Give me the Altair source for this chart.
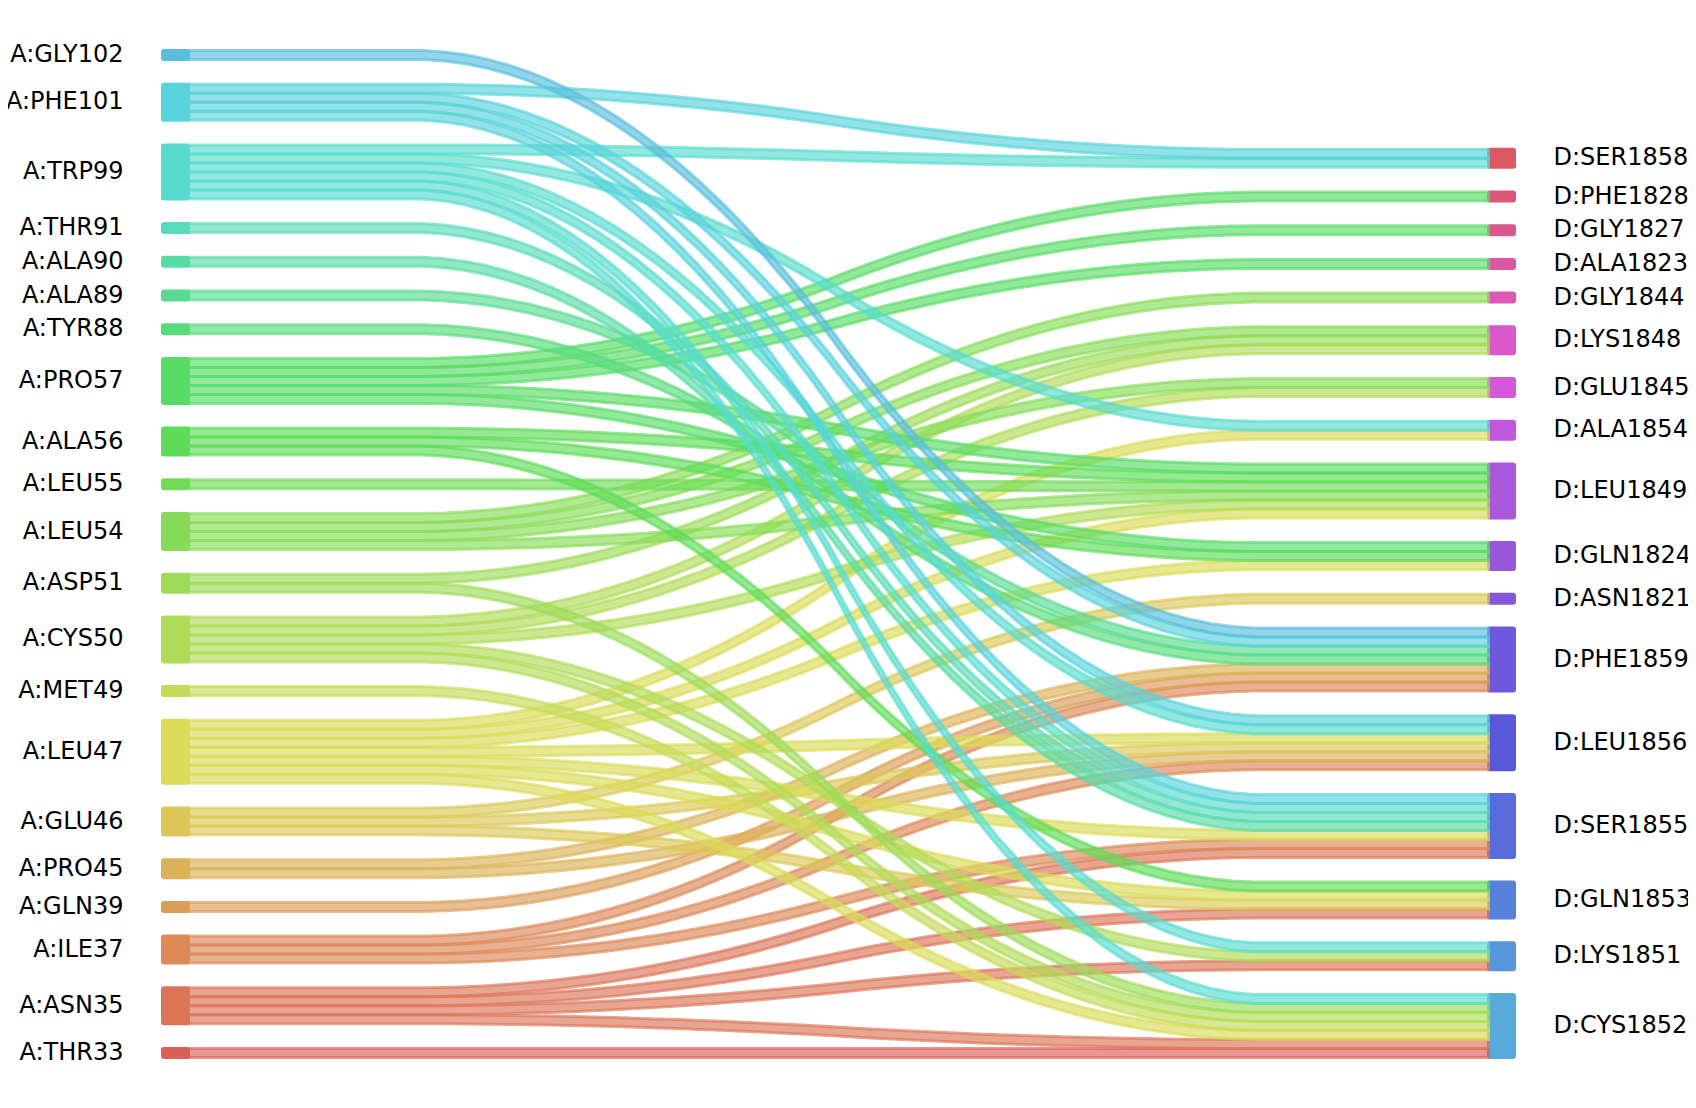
import colorsys
import numpy as np
import pandas as pd
import altair as alt

# ---------------- data ----------------
# left residues (bottom -> top), right residues (bottom -> top)
left_labels = ["A:THR33", "A:ASN35", "A:ILE37", "A:GLN39", "A:PRO45", "A:GLU46",
               "A:LEU47", "A:MET49", "A:CYS50", "A:ASP51", "A:LEU54", "A:LEU55",
               "A:ALA56", "A:PRO57", "A:TYR88", "A:ALA89", "A:ALA90", "A:THR91",
               "A:TRP99", "A:PHE101", "A:GLY102"]
right_labels = ["D:CYS1852", "D:LYS1851", "D:GLN1853", "D:SER1855", "D:LEU1856",
                "D:PHE1859", "D:ASN1821", "D:GLN1824", "D:LEU1849", "D:ALA1854",
                "D:GLU1845", "D:LYS1848", "D:GLY1844", "D:ALA1823", "D:GLY1827",
                "D:PHE1828", "D:SER1858"]

link_src = ["A:THR33",
            "A:ASN35", "A:ASN35", "A:ASN35", "A:ASN35",
            "A:ILE37", "A:ILE37", "A:ILE37",
            "A:GLN39",
            "A:PRO45", "A:PRO45",
            "A:GLU46", "A:GLU46", "A:GLU46",
            "A:LEU47", "A:LEU47", "A:LEU47", "A:LEU47", "A:LEU47", "A:LEU47", "A:LEU47",
            "A:MET49",
            "A:CYS50", "A:CYS50", "A:CYS50", "A:CYS50", "A:CYS50",
            "A:ASP51", "A:ASP51",
            "A:LEU54", "A:LEU54", "A:LEU54", "A:LEU54",
            "A:LEU55",
            "A:ALA56", "A:ALA56", "A:ALA56",
            "A:PRO57", "A:PRO57", "A:PRO57", "A:PRO57", "A:PRO57",
            "A:TYR88", "A:ALA89", "A:ALA90", "A:THR91",
            "A:TRP99", "A:TRP99", "A:TRP99", "A:TRP99", "A:TRP99", "A:TRP99",
            "A:PHE101", "A:PHE101", "A:PHE101", "A:PHE101",
            "A:GLY102"]
link_dst = ["D:CYS1852",
            "D:CYS1852", "D:LYS1851", "D:GLN1853", "D:SER1855",
            "D:SER1855", "D:LEU1856", "D:PHE1859",
            "D:PHE1859",
            "D:LEU1856", "D:PHE1859",
            "D:GLN1853", "D:LEU1856", "D:ASN1821",
            "D:CYS1852", "D:GLN1853", "D:SER1855", "D:LEU1856", "D:GLN1824", "D:LEU1849", "D:ALA1854",
            "D:CYS1852",
            "D:CYS1852", "D:LYS1851", "D:LEU1849", "D:GLU1845", "D:LYS1848",
            "D:CYS1852", "D:LYS1848",
            "D:LEU1849", "D:GLU1845", "D:LYS1848", "D:GLY1844",
            "D:LEU1849",
            "D:GLN1853", "D:GLN1824", "D:LEU1849",
            "D:GLN1824", "D:LEU1849", "D:ALA1823", "D:GLY1827", "D:PHE1828",
            "D:PHE1859", "D:PHE1859", "D:SER1855", "D:SER1855",
            "D:CYS1852", "D:LYS1851", "D:SER1855", "D:LEU1856", "D:ALA1854", "D:SER1858",
            "D:SER1855", "D:LEU1856", "D:PHE1859", "D:SER1858",
            "D:PHE1859"]

# ---------------- style / layout ----------------
all_labels = left_labels + right_labels
hues = (np.linspace(0, 1, len(all_labels) + 1)[:-1] + 0.01) % 1
palette = ["#%02x%02x%02x" % tuple(int(round(c * 255)) for c in colorsys.hls_to_rgb(h, 0.6, 0.65))
           for h in hues]

UNIT = 9.0
GAP = 24.7
BASE = 1057.5
X0, X1 = 188.5, 1488.5
BAR = 26.0

pairs = pd.DataFrame({"src": link_src, "dst": link_dst})
w = pairs.groupby(["src", "dst"]).size()
lcount = pairs["src"].value_counts()
rcount = pairs["dst"].value_counts()


def stack(labels, counts):
    pos = {}
    bottom = BASE
    for lab in labels:
        h = counts.get(lab, 0) * UNIT
        pos[lab] = (bottom - h, bottom)
        bottom = bottom - h - GAP
    return pos


lpos = stack(left_labels, lcount)
rpos = stack(right_labels, rcount)


def smooth(a, b):
    ys = np.array(50 * [a] + 50 * [b], dtype=float)
    ys = np.convolve(ys, 0.05 * np.ones(20), mode="valid")
    ys = np.convolve(ys, 0.05 * np.ones(20), mode="valid")
    return ys


lcur = {k: v[1] for k, v in lpos.items()}
rcur = {k: v[1] for k, v in rpos.items()}
rows = []
k = 0
for L in left_labels:
    for R in right_labels:
        if (L, R) not in w.index:
            continue
        n = w[(L, R)]
        lb, rb = lcur[L], rcur[R]
        lt, rt = lb - n * UNIT, rb - n * UNIT
        lcur[L], rcur[R] = lt, rt
        yd, yu = smooth(lb, rb), smooth(lt, rt)
        xs = np.linspace(X0, X1, len(yd))
        for x, a, b in zip(xs, yd, yu):
            rows.append({"link": f"{k:03d}", "src": L, "x": x, "y": a, "y2": b})
        k += 1
strips = pd.DataFrame(rows)

nodes = []
for lab in left_labels:
    t, b = lpos[lab]
    nodes.append({"name": lab, "x": X0 - BAR, "x2": X0, "y": t, "y2": b,
                  "yc": (t + b) / 2, "tx": X0 - 0.05 * (X1 - X0), "side": "L"})
for lab in right_labels:
    t, b = rpos[lab]
    nodes.append({"name": lab, "x": X1, "x2": X1 + BAR, "y": t, "y2": b,
                  "yc": (t + b) / 2, "tx": X1 + 0.05 * (X1 - X0), "side": "R"})
nodes = pd.DataFrame(nodes)

W, H = 1680, 1085
xscale = alt.Scale(domain=[8, 8 + W], nice=False, zero=False)
yscale = alt.Scale(domain=[8, 8 + H], nice=False, zero=False, reverse=True)
cscale = alt.Scale(domain=all_labels, range=palette)

bars = alt.Chart(nodes).mark_rect(strokeWidth=3, opacity=0.99, cornerRadius=1.5,
                                  strokeJoin="round").encode(
    x=alt.X("x:Q", scale=xscale, axis=None),
    x2="x2:Q",
    y=alt.Y("y:Q", scale=yscale, axis=None),
    y2="y2:Q",
    fill=alt.Fill("name:N", scale=cscale, legend=None),
    stroke=alt.Stroke("name:N", scale=cscale, legend=None),
)

areas = alt.Chart(strips).mark_area(fillOpacity=0.65, strokeOpacity=0.65, strokeWidth=3,
                                    interpolate="linear").encode(
    x=alt.X("x:Q", scale=xscale, axis=None),
    y=alt.Y("y:Q", scale=yscale, axis=None),
    y2="y2:Q",
    detail="link:N",
    fill=alt.Fill("src:N", scale=cscale, legend=None),
    stroke=alt.Stroke("src:N", scale=cscale, legend=None),
)

ltext = alt.Chart(nodes[nodes.side == "L"]).mark_text(
    align="right", baseline="middle", fontSize=24, font="DejaVu Sans", color="black").encode(
    x=alt.X("tx:Q", scale=xscale, axis=None),
    y=alt.Y("yc:Q", scale=yscale, axis=None),
    text="name:N",
)
rtext = alt.Chart(nodes[nodes.side == "R"]).mark_text(
    align="left", baseline="middle", fontSize=24, font="DejaVu Sans", color="black").encode(
    x=alt.X("tx:Q", scale=xscale, axis=None),
    y=alt.Y("yc:Q", scale=yscale, axis=None),
    text="name:N",
)

chart = alt.layer(bars, areas, ltext, rtext).properties(
    width=W, height=H, padding=0, autosize=alt.AutoSizeParams(type="none")
).configure_view(stroke=None)

chart.save("out.html", embed_options={"renderer": "svg", "actions": False})
